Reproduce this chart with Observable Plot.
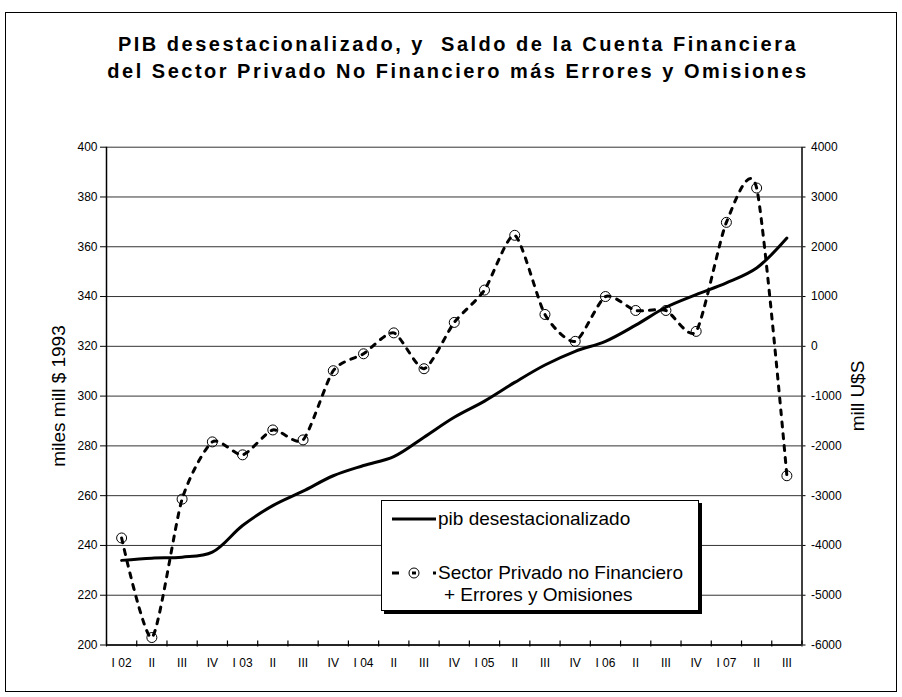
<!DOCTYPE html>
<html>
<head>
<meta charset="utf-8">
<script src="https://cdn.jsdelivr.net/npm/d3@7"></script>
<script src="https://cdn.jsdelivr.net/npm/@observablehq/plot@0.6"></script>
<style>
  html, body { margin: 0; padding: 0; background: #fff; }
  #wrap { position: relative; width: 902px; height: 697px; font-family: Arial, "Liberation Sans", sans-serif; color: #000; }
  #frame { position: absolute; left: 5px; top: 12px; width: 892px; height: 680px; box-sizing: border-box; border: 1px solid #000; }
  #chart { position: absolute; left: 0; top: 0; }
  #title { position: absolute; left: 7px; width: 902px; top: 31px; text-align: center; font-weight: bold; font-size: 20px; letter-spacing: 2.5px; line-height: 27px; }
  .ytitle { position: absolute; font-size: 19px; white-space: nowrap; transform: translate(-50%, -50%) rotate(-90deg); }
  #legend { position: absolute; left: 381px; top: 500px; width: 318px; height: 111px; box-sizing: border-box; border: 1px solid #000; box-shadow: 3px 3px 0 #000; background: #fff; }
  #legend svg { position: absolute; left: 0; top: 0; }
  .lt { position: absolute; font-size: 19px; white-space: nowrap; line-height: 22px; }
</style>
</head>
<body>
<div id="wrap">
  <div id="frame"></div>
  <div id="chart"></div>
  <div id="title">PIB desestacionalizado, y&nbsp; Saldo de la Cuenta Financiera<br>del Sector Privado No Financiero más Errores y Omisiones</div>
  <div class="ytitle" style="left:59px; top:396px;">miles mill $ 1993</div>
  <div class="ytitle" style="left:858px; top:396px;">mill U$S</div>
  <div id="legend">
    <svg width="318" height="111">
      <line x1="10" x2="54" y1="18" y2="18" stroke="#000" stroke-width="3"></line>
      <line x1="10" x2="17" y1="72" y2="72" stroke="#000" stroke-width="3"></line>
      <circle cx="32" cy="72" r="5" fill="none" stroke="#000" stroke-width="1"></circle>
      <line x1="30" x2="34" y1="72" y2="72" stroke="#000" stroke-width="3"></line>
      <line x1="51" x2="54" y1="72" y2="72" stroke="#000" stroke-width="3"></line>
    </svg>
    <div class="lt" style="left:56px; top:7px;">pib desestacionalizado</div>
    <div class="lt" style="left:56px; top:61px;">Sector Privado no Financiero</div>
    <div class="lt" style="left:62px; top:83px;">+ Errores y Omisiones</div>
  </div>
</div>
<script>
// Data
const quarterLabels = ["I 02","II","III","IV","I 03","II","III","IV","I 04","II","III","IV","I 05","II","III","IV","I 06","II","III","IV","I 07","II","III"];
const pibValues = [234.0, 234.9, 235.3, 237.3, 248.0, 256.0, 261.8, 268.0, 272.1, 275.7, 283.5, 291.5, 298.0, 305.5, 312.5, 318.0, 322.0, 328.5, 335.7, 340.8, 345.5, 351.5, 363.5];
const saldoValues = [-3850, -5850, -3070, -1920, -2180, -1680, -1880, -490, -150, 270, -450, 480, 1130, 2230, 640, 100, 1000, 720, 720, 300, 2490, 3180, -2600];
const leftTicks = [200, 220, 240, 260, 280, 300, 320, 340, 360, 380, 400];
const rightTicks = [-6000, -5000, -4000, -3000, -2000, -1000, 0, 1000, 2000, 3000, 4000];

// Right axis (-6000..4000) mapped onto left axis (200..400)
const toLeft = r => 200 + (r + 6000) / 50;
const fromLeft = l => Math.round((l - 200) * 50 - 6000);

const idx = d3.range(quarterLabels.length);
const pibData = idx.map(i => ({i, v: pibValues[i]}));
const saldoData = idx.map(i => ({i, v: saldoValues[i]}));
const bounds = d3.range(quarterLabels.length + 1).map(i => i - 0.5);

const chart = Plot.plot({
  width: 902,
  height: 697,
  marginLeft: 106,
  marginRight: 100.5,
  marginTop: 146.7,
  marginBottom: 52.5,
  style: {fontFamily: "Arial, 'Liberation Sans', sans-serif", fontSize: "12px", color: "#000", background: "transparent", overflow: "visible"},
  x: {type: "linear", domain: [-0.5, quarterLabels.length - 0.5]},
  y: {domain: [200, 400]},
  marks: [
    Plot.gridY(leftTicks, {stroke: "#000", strokeOpacity: 0.8, strokeWidth: 1}),
    Plot.axisY(leftTicks, {anchor: "left", tickSize: 6, tickPadding: 3, label: null, fontSize: 12}),
    Plot.axisY(rightTicks.map(toLeft), {anchor: "right", tickSize: 3, tickPadding: 6, tickFormat: v => String(fromLeft(v)), label: null, fontSize: 12}),
    Plot.axisX(idx, {tickSize: 0, tickPadding: 13, tickFormat: i => quarterLabels[i], label: null, fontSize: 12}),
    Plot.ruleX(bounds, {x: d => d, y1: 200, y2: 200, insetTop: 2, insetBottom: 4, stroke: "#000", strokeWidth: 1.2}),
    Plot.ruleX([-0.5, quarterLabels.length - 0.5], {stroke: "#000", strokeWidth: 1.5}),
    Plot.ruleY([200], {stroke: "#000", strokeWidth: 1.5}),
    Plot.line(pibData, {x: "i", y: "v", curve: "catmull-rom", stroke: "#000", strokeWidth: 3}),
    Plot.line(saldoData, {x: "i", y: d => toLeft(d.v), curve: "cardinal", tension: 0.3, stroke: "#000", strokeWidth: 3, strokeDasharray: "5,7"}),
    Plot.dot(saldoData, {x: "i", y: d => toLeft(d.v), r: 5, stroke: "#000", fill: "none", strokeWidth: 1})
  ]
});
document.getElementById("chart").appendChild(chart);
</script>
</body>
</html>
